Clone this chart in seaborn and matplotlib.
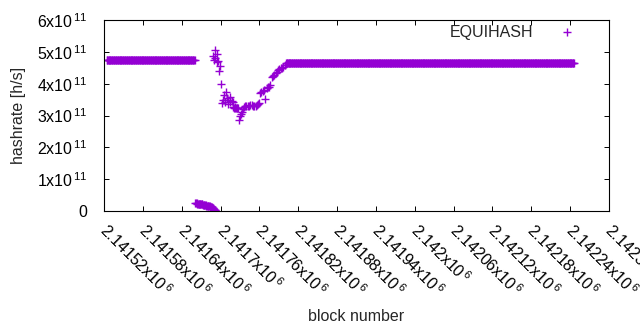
import numpy as np
import pandas as pd
import seaborn as sns
import matplotlib.pyplot as plt
from matplotlib.ticker import FuncFormatter, MultipleLocator

# hashrate per block
# two long plateaus: (first block, last block) and their hashrate
plateau_blocks = [(2141524, 2141660), (2141802, 2142246)]
plateau_rate = [4.75e11, 4.66e11]

# short run close to zero right after the first plateau
low_blocks = np.arange(2141661, 2141693)
low_rate = [0.24, 0.24, 0.23, 0.24, 0.23, 0.23, 0.23, 0.22, 0.23, 0.22, 0.22, 0.21,
            0.20, 0.19, 0.19, 0.18, 0.18, 0.17, 0.17, 0.17, 0.16, 0.15, 0.15, 0.14, 0.13,
            0.12, 0.11, 0.09, 0.08, 0.06, 0.04, 0.02]

# the dip between the plateaus
dip_offset = [169, 170, 171, 172, 174, 175, 176, 178, 179, 181, 182, 184, 186, 187,
              188, 190, 191, 192, 194, 195, 197, 199, 200, 201, 202, 203, 204, 205,
              206, 207, 209, 210, 211, 213, 214, 216, 218, 220, 222, 224, 226, 228,
              230, 232, 234, 236, 238, 240, 241, 243, 245, 247, 249, 251, 253, 255,
              257, 259, 261, 263, 265, 267, 269, 271, 273, 275, 277, 279, 281]
dip_rate = [4.88, 4.75, 5.06, 4.80, 4.94, 4.67, 4.70, 4.41, 4.54, 4.00, 3.39, 3.50,
            3.63, 3.42, 3.73, 3.55, 3.50, 3.37, 3.42, 3.58, 3.45, 3.42, 3.28, 3.25,
            3.24, 3.27, 3.22, 3.25, 3.23, 3.24, 2.85, 3.00, 3.05, 3.11, 3.20, 3.27,
            3.29, 3.30, 3.31, 3.30, 3.32, 3.33, 3.30, 3.31, 3.30, 3.32, 3.35, 3.38,
            3.72, 3.75, 3.78, 3.80, 3.53, 3.85, 3.91, 3.88, 3.95, 4.20, 4.24, 4.28,
            4.32, 4.36, 4.42, 4.45, 4.48, 4.50, 4.52, 4.60, 4.66]
first_block = 2141520

xticks = np.arange(2141520, 2142301, 60)

# build one frame
parts = []
for (b0, b1), r in zip(plateau_blocks, plateau_rate):
    blk = np.arange(b0, b1 + 1)
    parts.append(pd.DataFrame({'block': blk, 'rate': r}))
parts.append(pd.DataFrame({'block': low_blocks, 'rate': np.array(low_rate) * 1e11}))
parts.append(pd.DataFrame({'block': first_block + np.array(dip_offset),
                           'rate': np.array(dip_rate) * 1e11}))
df = pd.concat(parts, ignore_index=True)

sns.set_style('ticks')
plt.rcParams['font.family'] = ['Liberation Sans', 'DejaVu Sans']
plt.rcParams['font.size'] = 11.5

fig = plt.figure(figsize=(6.4, 3.3), dpi=100)
ax = fig.add_axes([104 / 640, 1 - 211 / 330, 505 / 640, 191 / 330])

sns.scatterplot(data=df, x='block', y='rate', marker='+', s=30, color='#9400d3',
                linewidth=1.0, ax=ax, label='EQUIHASH')

ax.set_xlim(2141520, 2142300)
ax.set_ylim(0, 6e11)
ax.set_xticks(xticks)
ax.yaxis.set_major_locator(MultipleLocator(1e11))
ax.xaxis.set_major_formatter(FuncFormatter(
    lambda v, p: '{:g}x10$^{{\\,\\mathregular{{6}}}}$'.format(round(v) / 1e6)))
ax.yaxis.set_major_formatter(FuncFormatter(
    lambda v, p: '0' if v == 0 else '{:d}x10$^{{\\,\\mathregular{{11}}}}$'.format(int(round(v / 1e11)))))

# gnuplot-like box with inward ticks on all sides
for s in ax.spines.values():
    s.set_visible(True)
    s.set_linewidth(0.8)
    s.set_color('black')
ax.tick_params(direction='in', top=True, right=True, length=3.3, width=0.7,
               colors='black', labelsize=11.5)
ax.tick_params(axis='y', pad=12)
ax.tick_params(axis='x', pad=11)
plt.setp(ax.get_xticklabels(), rotation=-45, ha='left', va='center_baseline',
         rotation_mode='anchor')

ax.set_xlabel('block number', fontsize=11.5)
ax.set_ylabel('hashrate [h/s]', fontsize=11.5)
ax.xaxis.set_label_coords(0.5, -0.515)
ax.yaxis.set_label_coords(-0.155, 0.5)

ax.legend(loc='upper right', bbox_to_anchor=(0.961, 1.009), frameon=False,
          markerfirst=False, handletextpad=1.1, borderaxespad=0, fontsize=11.5)

fig.savefig('out.png', dpi=100)
